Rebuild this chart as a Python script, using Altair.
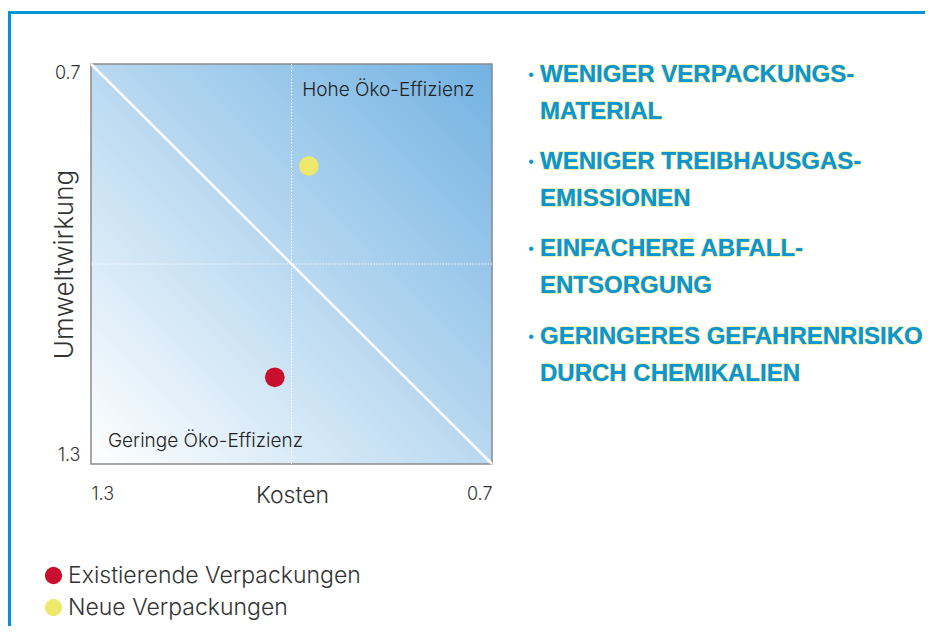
import altair as alt
import pandas as pd

# ---- data ----
x_ticks = [1.3, 0.7]
y_ticks = [0.7, 1.3]
series = ["Existierende Verpackungen", "Neue Verpackungen"]
kosten = [1.025, 0.974]
umwelt = [1.17, 0.853]
colors = ["#c8102e", "#ece96c"]
midline = [1.0]
diag_x = [1.3, 0.7]
diag_y = [0.7, 1.3]
quad_labels = ["Hohe Öko-Effizienz", "Geringe Öko-Effizienz"]
quad_x = [0.984, 1.2746]
quad_y = [0.739, 1.2655]
bullets = [
    "WENIGER VERPACKUNGS-\nMATERIAL",
    "WENIGER TREIBHAUSGAS-\nEMISSIONEN",
    "EINFACHERE ABFALL-\nENTSORGUNG",
    "GERINGERES GEFAHRENRISIKO\nDURCH CHEMIKALIEN",
]

W, H = 401, 400
LIGHT = "Inter"
BOLD = "Liberation Sans"
BLUE = "#0a96d4"

xs = alt.Scale(domain=[0.7, 1.3], reverse=True, nice=False, zero=False)
ys = alt.Scale(domain=[0.7, 1.3], reverse=True, nice=False, zero=False)

xaxis = alt.Axis(values=x_ticks, labelFlush=True, domain=False, ticks=False, grid=False,
                 labelFont=LIGHT, labelFontWeight=300, labelFontSize=18, labelColor="#333",
                 labelPadding=21, title="Kosten", titleFont=LIGHT, titleFontWeight=300,
                 titleFontSize=23, titleColor="#333", titleX=201, titleY=31,
                 titleBaseline="middle", format=".1f")
yaxis = alt.Axis(values=y_ticks, labelFlush=True, domain=False, ticks=False, grid=False,
                 labelFont=LIGHT, labelFontWeight=300, labelFontSize=18, labelColor="#333",
                 labelPadding=11, title="Umweltwirkung", titleFont=LIGHT, titleFontWeight=300,
                 titleFontSize=26, titleColor="#333", titleX=-27, titleY=200,
                 titleAngle=-90, titleBaseline="middle", format=".1f")

grad = alt.Gradient(
    gradient="linear",
    stops=[alt.GradientStop(color="#ffffff", offset=0),
           alt.GradientStop(color="#72b2e2", offset=1)],
    x1=0, y1=1, x2=1, y2=0,
)

box_df = pd.DataFrame({"x": [x_ticks[0]], "x2": [x_ticks[1]], "y": [y_ticks[0]], "y2": [y_ticks[1]]})
bg = alt.Chart(box_df).mark_rect(fill=grad, stroke="#8a8a8a", strokeWidth=1.5).encode(
    x=alt.X("x:Q", scale=xs, axis=xaxis), x2="x2:Q",
    y=alt.Y("y:Q", scale=ys, axis=yaxis), y2="y2:Q",
)

mid_df = pd.DataFrame({"m": midline})
vline = alt.Chart(mid_df).mark_rule(color="white", strokeWidth=1, strokeDash=[1.5, 1.5], opacity=0.9).encode(
    x=alt.X("m:Q", scale=xs))
hline = alt.Chart(mid_df).mark_rule(color="white", strokeWidth=1, strokeDash=[1.5, 1.5], opacity=0.9).encode(
    y=alt.Y("m:Q", scale=ys))

diag_df = pd.DataFrame({"x": diag_x, "y": diag_y})
diag = alt.Chart(diag_df).mark_line(color="white", strokeWidth=2.5).encode(
    x=alt.X("x:Q", scale=xs), y=alt.Y("y:Q", scale=ys))

quad_df = pd.DataFrame({"t": quad_labels, "x": quad_x, "y": quad_y})
quad = alt.Chart(quad_df).mark_text(align="left", baseline="middle", font=LIGHT, fontWeight=300,
                                     fontSize=19, color="#222").encode(
    x=alt.X("x:Q", scale=xs), y=alt.Y("y:Q", scale=ys), text="t:N")

pts_df = pd.DataFrame({"s": series, "x": kosten, "y": umwelt})
pts = alt.Chart(pts_df).mark_circle(size=390, opacity=1).encode(
    x=alt.X("x:Q", scale=xs), y=alt.Y("y:Q", scale=ys),
    color=alt.Color("s:N", scale=alt.Scale(domain=series, range=colors),
                    legend=alt.Legend(orient="none", legendX=-49, legendY=500, title=None,
                                      symbolType="circle", symbolSize=300, symbolStrokeWidth=0,
                                      symbolOpacity=1, labelFont=LIGHT, labelFontWeight=300,
                                      labelFontSize=23, labelColor="#333", labelOffset=3,
                                      rowPadding=8, padding=0, labelLimit=400)),
)

# frame lines
frame_df = pd.DataFrame({"k": [0]})
top_line = alt.Chart(frame_df).mark_rule(color="#0096d6", strokeWidth=3).encode(
    x=alt.value(-83), x2=alt.value(834), y=alt.value(-51.5))
left_line = alt.Chart(frame_df).mark_rule(color="#0096d6", strokeWidth=3).encode(
    x=alt.value(-81.5), y=alt.value(-53), y2=alt.value(570))

# bullet list
bullet_y = [-1, 86, 173, 261]
bullet_layers = []
for txt, by in zip(bullets, bullet_y):
    d = pd.DataFrame({"t": [txt]})
    halo = alt.Chart(d).mark_text(align="left", baseline="top", font=BOLD, fontWeight="bold",
                                  fontSize=24, lineHeight=37, lineBreak="\n", fill=BLUE,
                                  stroke="#e4e35e", strokeWidth=0.9).encode(
        x=alt.value(449), y=alt.value(by), text="t:N")
    main = alt.Chart(d).mark_text(align="left", baseline="top", font=BOLD, fontWeight="bold",
                                  fontSize=24, lineHeight=37, lineBreak="\n", fill=BLUE).encode(
        x=alt.value(449), y=alt.value(by), text="t:N")
    dot = alt.Chart(d).mark_text(align="center", baseline="middle", font=BOLD, fontSize=16,
                                 fill=BLUE, text="•").encode(
        x=alt.value(440), y=alt.value(by + 12))
    bullet_layers += [halo, main, dot]

chart = alt.layer(bg, vline, hline, diag, quad, pts, top_line, left_line, *bullet_layers).properties(
    width=W, height=H,
    padding={"left": 83, "top": 56, "right": 433, "bottom": 162},
    autosize=alt.AutoSizeParams(type="none"),
).configure_view(stroke=None)

chart.save("out.html", embed_options={"renderer": "svg", "actions": False})
